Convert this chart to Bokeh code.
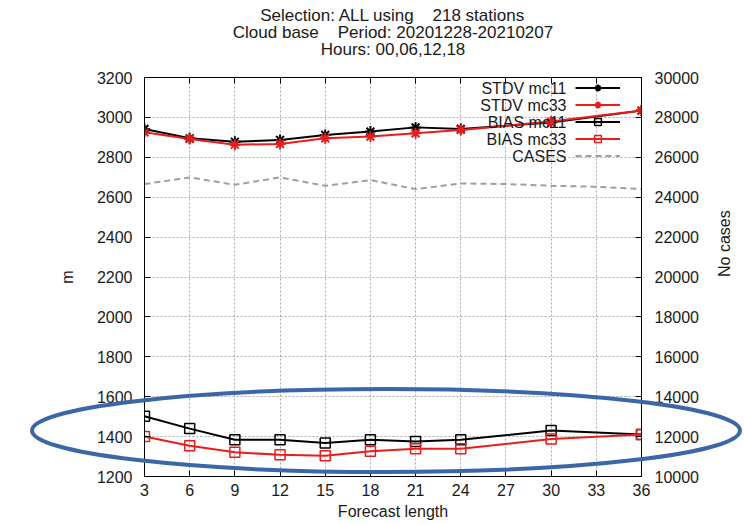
import numpy as np
from bokeh.plotting import figure
from bokeh.layouts import column
from bokeh.models import (Range1d, LinearAxis, FixedTicker, Title, Label, Legend,
                          LegendItem, Div)
from bokeh.embed import file_html
from bokeh.resources import INLINE

# ---- data ----
hours = [3, 6, 9, 12, 15, 18, 21, 24, 30, 36]
stdv_mc11 = [2942, 2895, 2878, 2887, 2912, 2929, 2950, 2942, 2975, 3034]
stdv_mc33 = [2925, 2892, 2863, 2867, 2895, 2904, 2920, 2937, 2979, 3034]
bias_mc11 = [1502, 1440, 1384, 1384, 1368, 1384, 1376, 1384, 1431, 1410]
bias_mc33 = [1401, 1354, 1321, 1309, 1304, 1326, 1339, 1339, 1388, 1410]
case_hours = [3, 6, 9, 12, 15, 18, 21, 24, 27, 30, 33, 36]
cases = [24658, 24992, 24623, 24992, 24573, 24858, 24407, 24690, 24658, 24573, 24523, 24407]

x_ticks = [3, 6, 9, 12, 15, 18, 21, 24, 27, 30, 33, 36]
y_ticks = [1200, 1400, 1600, 1800, 2000, 2200, 2400, 2600, 2800, 3000, 3200]
y2_ticks = [10000, 12000, 14000, 16000, 18000, 20000, 22000, 24000, 26000, 28000, 30000]

NB = "\u00a0"
title_lines = ["Selection: ALL using " + NB * 3 + "218 stations",
               "Cloud base " + NB * 3 + "Period: 20201228-20210207",
               "Hours: 00,06,12,18"]
series_names = ["STDV mc11", "STDV mc33", "BIAS mc11", "BIAS mc33", "CASES"]
x_label = "Forecast length"

FONT = "Liberation Sans"
FS = "16px"
TXT = "#1a1a1a"
RED = "#ec1c1c"
BLACK = "#000000"
GRAY = "#a0a0a0"
GRID = "#ababab"

p = figure(width=744, height=525, x_range=Range1d(3, 36), y_range=Range1d(1200, 3200),
           output_backend="svg", toolbar_location=None,
           min_border_left=144, min_border_right=103, min_border_top=77, min_border_bottom=49)
p.extra_y_ranges = {"cases": Range1d(10000, 30000)}
p.background_fill_color = "white"
p.border_fill_color = "white"
p.outline_line_color = "black"
p.outline_line_width = 1

bottom = p.below[0]
left = p.left[0]
bottom.ticker = FixedTicker(ticks=x_ticks)
bottom.axis_label = x_label
left.ticker = FixedTicker(ticks=y_ticks)
left.axis_label = "m"

y2 = LinearAxis(y_range_name="cases", ticker=FixedTicker(ticks=y2_ticks), axis_label="No cases")
p.add_layout(y2, "right")
# mirrored x ticks on the top border (no labels); its blank title only reserves space
top = LinearAxis(ticker=FixedTicker(ticks=x_ticks),
                 major_label_overrides={t: "" for t in x_ticks}, axis_label=NB)
p.add_layout(top, "above")

for ax in [bottom, left, y2, top]:
    ax.major_tick_in = 6
    ax.major_tick_out = 0
    ax.minor_tick_line_color = None
    ax.axis_line_color = "black"
    ax.major_tick_line_color = "black"
    ax.major_label_text_font = FONT
    ax.major_label_text_font_size = FS
    ax.major_label_text_color = TXT
    ax.axis_label_text_font = FONT
    ax.axis_label_text_font_size = FS
    ax.axis_label_text_font_style = "normal"
    ax.axis_label_text_color = TXT
top.major_label_text_font_size = "1px"
top.major_label_standoff = 0
top.axis_label_standoff = 0
bottom.major_label_standoff = 7
bottom.axis_label_standoff = 4
left.major_label_standoff = 12
left.axis_label_standoff = 18
y2.major_label_standoff = 13
y2.axis_label_standoff = 23
y2.axis_label_orientation = float(np.pi / 2)

p.xgrid.ticker = FixedTicker(ticks=x_ticks)
p.ygrid.ticker = FixedTicker(ticks=y_ticks)
for g in [p.xgrid[0], p.ygrid[0]]:
    g.grid_line_color = GRID
    g.grid_line_dash = "2 2"
    g.grid_line_width = 1

# titles (later added = farther from the plot)
for line, so in zip(reversed(title_lines), [-3, -4, -4]):
    p.add_layout(Title(text=line, align="center", text_font=FONT, text_font_size="17px",
                       text_font_style="normal", text_color=TXT, standoff=so), "above")

# series
l1 = p.line(hours, stdv_mc11, line_color=BLACK, line_width=2)
s1 = p.scatter(hours, stdv_mc11, marker="asterisk", size=11, line_color=BLACK, line_width=2)
l2 = p.line(hours, stdv_mc33, line_color=RED, line_width=2)
s2 = p.scatter(hours, stdv_mc33, marker="asterisk", size=11, line_color=RED, line_width=2)
l3 = p.line(hours, bias_mc11, line_color=BLACK, line_width=2)
s3 = p.scatter(hours, bias_mc11, marker="square", size=10, line_color=BLACK, line_width=1.5,
               fill_color=None)
l4 = p.line(hours, bias_mc33, line_color=RED, line_width=2)
s4 = p.scatter(hours, bias_mc33, marker="square", size=10, line_color=RED, line_width=1.5,
               fill_color=None)
l5 = p.line(case_hours, cases, y_range_name="cases", line_color=GRAY, line_width=2,
            line_dash="6 4")

# legend: glyph samples via Legend, texts to their left (gnuplot style)
legend = Legend(items=[LegendItem(label=" ", renderers=[l1, s1]),
                       LegendItem(label=" ", renderers=[l2, s2]),
                       LegendItem(label=" ", renderers=[l3, s3]),
                       LegendItem(label=" ", renderers=[l4, s4]),
                       LegendItem(label=" ", renderers=[l5])],
                location="top_right", margin=2, padding=0, spacing=0,
                glyph_width=45, glyph_height=17, label_width=19, label_height=17,
                label_standoff=0, label_text_font_size="1px",
                background_fill_alpha=0, border_line_alpha=0)
p.add_layout(legend)

x_px = lambda px: 3 + (px - 144) / (497 / 33)
y_px = lambda py: 1200 + (476 - py) / (399 / 2000)
for i, name in enumerate(series_names):
    p.add_layout(Label(x=x_px(566), y=y_px(87.5 + 17 * i), text=name, text_align="right",
                       text_baseline="middle", text_font=FONT, text_font_size=FS,
                       text_color=TXT))

# blue hand-drawn highlight ellipse, overlaid on the whole picture
ell = ('<svg width="744" height="525" xmlns="http://www.w3.org/2000/svg">'
       '<ellipse cx="381" cy="425.5" rx="354" ry="41.5" fill="none" '
       'stroke="#3c67a6" stroke-width="4"/></svg>')
d = Div(text=ell, width=744, height=525,
        styles={"position": "absolute", "left": "0px", "top": "0px",
                "pointer-events": "none", "z-index": "10"})

root = column(p, d)
open("out.html", "w").write(file_html(root, INLINE))
